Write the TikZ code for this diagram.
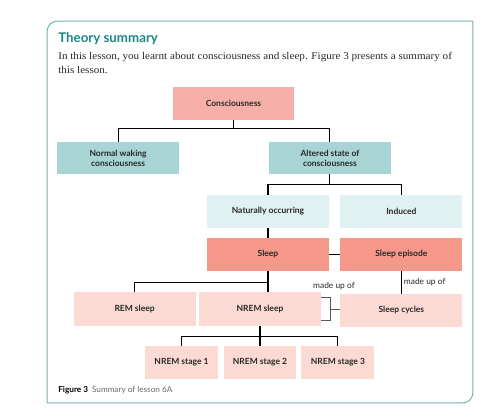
\documentclass[tikz,border=0pt]{standalone}
\usepackage{fontspec}
\setmainfont{Liberation Serif}
\setsansfont{Lato}
\newfontfamily\introfont{Liberation Serif}[FakeStretch=1.08]
\usepackage{xcolor}
\definecolor{framecol}{RGB}{120,178,178}
\definecolor{titlecol}{RGB}{27,134,134}
\definecolor{pinkA}{RGB}{246,175,169}
\definecolor{tealA}{RGB}{168,212,212}
\definecolor{tealB}{RGB}{224,241,241}
\definecolor{salmonA}{RGB}{245,152,137}
\definecolor{pinkB}{RGB}{250,218,210}
\definecolor{inkcol}{RGB}{40,40,40}
\definecolor{capgrey}{RGB}{105,105,105}

\begin{document}
\begin{tikzpicture}[scale=1.000000,x=1pt,y=-1pt,
  box/.style={minimum width=122pt,minimum height=33pt,inner sep=1pt,align=center,
    font=\sffamily\bfseries\fontsize{8.5}{10}\selectfont,text=inkcol},
  stagebox/.style={box,minimum width=73pt},
  wire/.style={draw=black,line width=1.1pt},
  bracket/.style={draw=black!65,line width=0.9pt},
  lab/.style={font=\sffamily\fontsize{8.4}{10}\selectfont,text=inkcol,inner sep=2pt}]
\filldraw[color=white] (0.000000, 0.000000) rectangle (495.000000, 419.000000);
% Drawing frame and texts
\draw[color=framecol,line width=1pt] (47,403) -- (47,31) arc[start angle=180,end angle=270,radius=10]
  -- (473,21) -- (473,393) arc[start angle=0,end angle=90,radius=10] -- cycle;
\node[anchor=base west,inner sep=0,text=titlecol,font=\sffamily\bfseries\fontsize{13.3}{15}\selectfont] (title) at (58,42) {Theory summary};
\node[anchor=base west,inner sep=0,text=inkcol,font=\introfont\fontsize{10.3}{12}\selectfont] (intro1) at (58,59) {In this lesson, you learnt about consciousness and sleep. Figure 3 presents a summary of};
\node[anchor=base west,inner sep=0,text=inkcol,font=\introfont\fontsize{10.3}{12}\selectfont] (intro2) at (58,73) {this lesson.};
% Done with texts; drawing boxes
\node[box,fill=pinkA] (cons) at (233.5,103.5) {Consciousness};
\node[box,fill=tealA,minimum height=32pt] (normal) at (118,158) {Normal waking\\consciousness};
\node[box,fill=tealA,minimum height=32pt] (altered) at (330,158) {Altered state of\\consciousness};
\node[box,fill=tealB] (natural) at (268,211.5) {Naturally occurring};
\node[box,fill=tealB] (induced) at (401.5,211.5) {Induced};
\node[box,fill=salmonA] (sleep) at (268,254.5) {Sleep};
\node[box,fill=salmonA] (episode) at (401.5,254.5) {Sleep episode};
\node[box,fill=pinkB,minimum height=34pt] (rem) at (134.5,309) {REM sleep};
\node[box,fill=pinkB,minimum height=34pt] (nrem) at (260,309) {NREM sleep};
\node[box,fill=pinkB] (cycles) at (401.5,310.5) {Sleep cycles};
\node[stagebox,fill=pinkB] (stA) at (181.5,362.5) {NREM stage 1};
\node[stagebox,fill=pinkB] (stB) at (260,362.5) {NREM stage 2};
\node[stagebox,fill=pinkB] (stC) at (338,362.5) {NREM stage 3};
% Done with boxes; drawing connectors
\draw[wire] (cons.south) -- ++(0,8) coordinate (consbus);
\draw[wire] (normal.north) |- (consbus) -| (altered.north);
\draw[wire] (altered.south) -- ++(0,10) coordinate (altbus);
\draw[wire] (natural.north) |- (altbus) -| (induced.north);
\draw[wire] (natural.south) -- (sleep.north);
\draw[wire] (sleep.east) -- (episode.west);
\draw[wire] (sleep.south) -- ++(0,11) coordinate (sleepbus) -- (sleep.south |- nrem.north);
\draw[wire] (rem.north) |- (sleepbus);
\draw[wire] (nrem.south) -- ++(0,10) coordinate (nrembus);
\draw[wire] (stA.north) |- (nrembus) -| (stC.north);
\draw[wire] (nrembus) -- (stB.north);
\draw[wire] (episode.south) -- node[lab,right] (madeB) {made up of} (cycles.north);
% Bracket from NREM sleep to sleep cycles
\draw[bracket] (nrem.east) ++(0,-12) -- ++(9,0) -- ++(0,24) -- ++(-9,0);
\draw[bracket] (nrem.east) ++(9,0) coordinate (brk) -- (brk -| cycles.west);
\node[lab] (madeA) at (334,286) {made up of};
% Done with connectors; drawing caption
\node[anchor=base west,inner sep=0,font=\sffamily\fontsize{8.2}{10}\selectfont] (caption) at (58,393)
  {\textbf{Figure 3}\hspace{4pt}\textcolor{capgrey}{Summary of lesson 6A}};
\end{tikzpicture}
\end{document}
